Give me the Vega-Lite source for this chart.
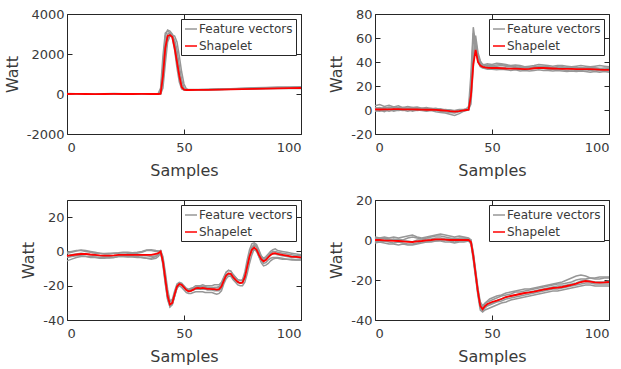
{
  "$schema": "https://vega.github.io/schema/vega-lite/v6.json",
  "padding": {"left": 3, "top": 7, "right": 5, "bottom": 5},
  "config": {
    "font": "DejaVu Sans",
    "view": {"stroke": "#262626", "strokeWidth": 1},
    "axis": {"grid": false, "domain": false, "labelFont": "DejaVu Sans", "labelFontSize": 13, "labelColor": "#3a3a3a", "titleFont": "DejaVu Sans", "titleFontSize": 16, "titleFontWeight": "normal", "titleColor": "#3a3a3a", "tickColor": "#262626", "tickSize": -5, "labelExpr": "'' + datum.value"},
    "axisX": {"labelPadding": 12, "titlePadding": 8},
    "axisY": {"labelPadding": 8, "titlePadding": 6},
    "legend": {"orient": "top-right", "offset": 5, "labelFont": "DejaVu Sans", "labelFontSize": 12, "labelColor": "#3a3a3a", "symbolType": "stroke", "symbolSize": 144, "symbolStrokeWidth": 1.5, "strokeColor": "#262626", "fillColor": "white", "padding": 3, "rowPadding": 4, "labelOffset": 1}
  },
  "datasets": {
    "p1": [
      {"x":0,"r":0,"a":15,"b":-10,"c":5,"d":20,"e":-15},
      {"x":4,"r":2,"a":10,"b":-5,"c":10,"d":15,"e":-10},
      {"x":8,"r":0,"a":12,"b":-8,"c":0,"d":18,"e":-12},
      {"x":12,"r":-2,"a":8,"b":-10,"c":5,"d":12,"e":-8},
      {"x":16,"r":0,"a":10,"b":-6,"c":8,"d":16,"e":-10},
      {"x":20,"r":2,"a":14,"b":-4,"c":4,"d":20,"e":-12},
      {"x":24,"r":0,"a":10,"b":-8,"c":6,"d":14,"e":-10},
      {"x":28,"r":0,"a":12,"b":-6,"c":2,"d":18,"e":-8},
      {"x":32,"r":2,"a":8,"b":-10,"c":6,"d":15,"e":-12},
      {"x":36,"r":0,"a":10,"b":-5,"c":4,"d":16,"e":-10},
      {"x":39,"r":0,"a":12,"b":-8,"c":2,"d":30,"e":-10},
      {"x":40,"r":20,"a":150,"b":10,"c":0,"d":300,"e":40},
      {"x":41,"r":900,"a":1400,"b":600,"c":300,"d":1900,"e":1000},
      {"x":42,"r":2300,"a":2900,"b":2000,"c":1500,"d":3050,"e":2500},
      {"x":43,"r":2900,"a":3200,"b":2800,"c":2600,"d":3150,"e":3000},
      {"x":44,"r":2950,"a":3150,"b":2950,"c":2900,"d":3050,"e":3050},
      {"x":45,"r":2850,"a":3000,"b":2900,"c":2950,"d":2800,"e":2950},
      {"x":46,"r":2300,"a":2550,"b":2700,"c":2900,"d":2200,"e":2500},
      {"x":47,"r":1600,"a":1800,"b":2200,"c":2600,"d":1300,"e":1700},
      {"x":48,"r":900,"a":900,"b":1400,"c":1900,"d":600,"e":1000},
      {"x":49,"r":350,"a":400,"b":700,"c":1100,"d":250,"e":450},
      {"x":50,"r":220,"a":220,"b":300,"c":500,"d":200,"e":250},
      {"x":51,"r":200,"a":200,"b":220,"c":260,"d":190,"e":210},
      {"x":52,"r":200,"a":205,"b":215,"c":220,"d":195,"e":205},
      {"x":56,"r":205,"a":215,"b":220,"c":215,"d":200,"e":210},
      {"x":60,"r":210,"a":225,"b":230,"c":220,"d":210,"e":215},
      {"x":65,"r":220,"a":240,"b":245,"c":225,"d":220,"e":230},
      {"x":70,"r":230,"a":260,"b":255,"c":235,"d":235,"e":245},
      {"x":75,"r":245,"a":285,"b":270,"c":245,"d":255,"e":260},
      {"x":80,"r":260,"a":310,"b":285,"c":255,"d":270,"e":280},
      {"x":85,"r":270,"a":330,"b":300,"c":265,"d":290,"e":295},
      {"x":90,"r":280,"a":345,"b":315,"c":270,"d":305,"e":305},
      {"x":95,"r":290,"a":355,"b":325,"c":275,"d":315,"e":315},
      {"x":100,"r":300,"a":365,"b":335,"c":280,"d":325,"e":320}
    ],
    "p2": [
      {"x":0,"r":0.5,"a":3.5,"b":-1,"c":1,"d":-0.5,"e":2},
      {"x":2,"r":0.4,"a":4.5,"b":0,"c":2,"d":-1,"e":1},
      {"x":4,"r":0.6,"a":3,"b":-1.5,"c":1,"d":0,"e":2},
      {"x":6,"r":0.6,"a":4,"b":0.5,"c":2.5,"d":-1,"e":1.5},
      {"x":8,"r":0.7,"a":2.5,"b":-1,"c":1.5,"d":0,"e":2.5},
      {"x":10,"r":0.8,"a":3.5,"b":0,"c":2,"d":-0.5,"e":1.5},
      {"x":12,"r":0.6,"a":2,"b":-0.5,"c":1,"d":0,"e":2},
      {"x":14,"r":0.6,"a":3,"b":0.5,"c":1.5,"d":-1,"e":1.5},
      {"x":16,"r":0.5,"a":2,"b":-1,"c":1,"d":0,"e":2},
      {"x":18,"r":0.4,"a":2.5,"b":0,"c":1.5,"d":-0.5,"e":1},
      {"x":20,"r":0.3,"a":1.5,"b":-0.5,"c":0.5,"d":0,"e":1.5},
      {"x":22,"r":0.2,"a":2,"b":-1,"c":1,"d":-0.5,"e":1},
      {"x":24,"r":0.2,"a":1,"b":-0.5,"c":0.5,"d":0,"e":1.5},
      {"x":26,"r":0.1,"a":1.5,"b":-1.5,"c":1,"d":-0.5,"e":0.5},
      {"x":28,"r":-0.2,"a":0.5,"b":-2,"c":0,"d":-1,"e":1},
      {"x":30,"r":-0.5,"a":0,"b":-2.5,"c":0.5,"d":-1.5,"e":0},
      {"x":32,"r":-1,"a":-0.5,"b":-3.5,"c":0,"d":-2,"e":0},
      {"x":34,"r":-1.3,"a":-1,"b":-4.5,"c":-0.5,"d":-2.5,"e":-1},
      {"x":36,"r":-0.9,"a":0,"b":-3,"c":0.5,"d":-1.5,"e":-0.5},
      {"x":38,"r":-0.3,"a":0.5,"b":-1,"c":0.5,"d":-0.5,"e":0},
      {"x":39,"r":0,"a":1,"b":-0.5,"c":0.5,"d":0,"e":0},
      {"x":40,"r":0.2,"a":3,"b":0,"c":1,"d":0,"e":0.5},
      {"x":41,"r":12,"a":30,"b":15,"c":20,"d":8,"e":5},
      {"x":42,"r":38,"a":69,"b":60,"c":64,"d":45,"e":35},
      {"x":43,"r":50,"a":55,"b":52,"c":55,"d":58,"e":62},
      {"x":44,"r":40,"a":43,"b":40,"c":42,"d":46,"e":48},
      {"x":45,"r":37,"a":39,"b":36,"c":38,"d":40,"e":41},
      {"x":46,"r":36,"a":38,"b":35,"c":37,"d":37,"e":38},
      {"x":47,"r":35.5,"a":38,"b":34.5,"c":37,"d":36,"e":37},
      {"x":48,"r":35.2,"a":38.5,"b":34,"c":37.5,"d":35.5,"e":36.5},
      {"x":50,"r":35,"a":38,"b":34,"c":37,"d":35,"e":36},
      {"x":52,"r":35,"a":39,"b":33.5,"c":37.5,"d":35.5,"e":36.5},
      {"x":54,"r":34.8,"a":38.5,"b":34,"c":38,"d":35,"e":37},
      {"x":56,"r":34.6,"a":38,"b":33.5,"c":37,"d":35,"e":36.5},
      {"x":58,"r":34.5,"a":37,"b":33,"c":36.5,"d":34.5,"e":36},
      {"x":60,"r":34.4,"a":37.5,"b":33.5,"c":36,"d":34,"e":35.5},
      {"x":62,"r":34.2,"a":37,"b":32.5,"c":35.5,"d":34,"e":36},
      {"x":64,"r":34,"a":36,"b":33,"c":35,"d":33.5,"e":35.5},
      {"x":66,"r":34.2,"a":36.5,"b":32.5,"c":35.5,"d":34,"e":35},
      {"x":68,"r":34.8,"a":37,"b":33,"c":36,"d":34.5,"e":35.5},
      {"x":70,"r":35,"a":38,"b":33.5,"c":36.5,"d":35,"e":36},
      {"x":72,"r":35,"a":37.5,"b":33,"c":36,"d":34.5,"e":36.5},
      {"x":74,"r":34.8,"a":37,"b":33,"c":35.5,"d":34,"e":36},
      {"x":76,"r":34.6,"a":36.5,"b":32.5,"c":35,"d":34,"e":35.5},
      {"x":78,"r":34.4,"a":37,"b":33,"c":35.5,"d":33.5,"e":36},
      {"x":80,"r":34.3,"a":37,"b":32.5,"c":36,"d":33.5,"e":35.5},
      {"x":82,"r":34.2,"a":36.5,"b":32,"c":35.5,"d":33,"e":35},
      {"x":84,"r":34.2,"a":36,"b":32.5,"c":35,"d":33.5,"e":35.5},
      {"x":86,"r":34,"a":36.5,"b":32,"c":35.5,"d":33,"e":35},
      {"x":88,"r":34,"a":37,"b":32.5,"c":35,"d":33,"e":35.5},
      {"x":90,"r":34,"a":36.5,"b":32,"c":35,"d":33.5,"e":35},
      {"x":92,"r":34,"a":36,"b":31.5,"c":35.5,"d":33,"e":34.5},
      {"x":94,"r":33.8,"a":36.5,"b":32,"c":35,"d":32.5,"e":35},
      {"x":96,"r":33.6,"a":37,"b":31.5,"c":34.5,"d":33,"e":34.5},
      {"x":98,"r":33.5,"a":36.5,"b":32,"c":35,"d":32.5,"e":34},
      {"x":100,"r":33.5,"a":36,"b":31.5,"c":35,"d":32.5,"e":34.5}
    ],
    "p3": [
      {"x":0,"r":-2.6,"a":-1,"b":-3.5,"c":-5.5,"d":-0.5,"e":-2.5},
      {"x":2,"r":-2.2,"a":-0.5,"b":-3,"c":-4.5,"d":0,"e":-2},
      {"x":4,"r":-1.8,"a":0.3,"b":-2.5,"c":-3.5,"d":0.5,"e":-1.5},
      {"x":6,"r":-1.5,"a":0.8,"b":-2.5,"c":-3,"d":0.5,"e":-1},
      {"x":8,"r":-1.5,"a":0.5,"b":-2.8,"c":-3,"d":0,"e":-1.5},
      {"x":10,"r":-1.8,"a":0,"b":-3,"c":-3.5,"d":-0.5,"e":-2},
      {"x":12,"r":-2,"a":-0.5,"b":-3.2,"c":-3.5,"d":-1,"e":-2.5},
      {"x":14,"r":-2.3,"a":-1,"b":-3.5,"c":-4,"d":-1,"e":-2.5},
      {"x":16,"r":-2.5,"a":-1.2,"b":-3.5,"c":-4,"d":-1.5,"e":-3},
      {"x":18,"r":-2.5,"a":-1,"b":-3.8,"c":-3.5,"d":-1.5,"e":-3},
      {"x":20,"r":-2.3,"a":-1,"b":-3.5,"c":-3.5,"d":-1,"e":-2.5},
      {"x":22,"r":-2,"a":-0.8,"b":-3,"c":-3,"d":-1,"e":-2.5},
      {"x":24,"r":-2,"a":-0.5,"b":-3,"c":-3,"d":-0.8,"e":-2.5},
      {"x":26,"r":-2,"a":-0.5,"b":-3.2,"c":-3,"d":-1,"e":-2.5},
      {"x":28,"r":-2,"a":-0.8,"b":-3,"c":-3.2,"d":-1,"e":-2.2},
      {"x":30,"r":-2,"a":-0.5,"b":-3,"c":-3.5,"d":-1,"e":-2},
      {"x":32,"r":-2,"a":0,"b":-3.5,"c":-3.5,"d":-0.5,"e":-2.5},
      {"x":34,"r":-2,"a":0.8,"b":-4,"c":-4,"d":0.5,"e":-2.5},
      {"x":36,"r":-2,"a":1,"b":-4.5,"c":-4,"d":0.5,"e":-3},
      {"x":38,"r":-1.5,"a":0.5,"b":-4,"c":-3,"d":0,"e":-2.5},
      {"x":39,"r":-1,"a":0.3,"b":-3,"c":-2,"d":0,"e":-1.5},
      {"x":40,"r":0,"a":0.5,"b":-1,"c":-0.5,"d":0.5,"e":0},
      {"x":41,"r":-6,"a":-4,"b":-5,"c":-8,"d":-3,"e":-7},
      {"x":42,"r":-16,"a":-14,"b":-15,"c":-19,"d":-12,"e":-18},
      {"x":43,"r":-26,"a":-25,"b":-24,"c":-28,"d":-22,"e":-28},
      {"x":44,"r":-31,"a":-31,"b":-29,"c":-32.5,"d":-29,"e":-32},
      {"x":45,"r":-30,"a":-31,"b":-28,"c":-31,"d":-30,"e":-30},
      {"x":46,"r":-25,"a":-26,"b":-23,"c":-26,"d":-26,"e":-24},
      {"x":47,"r":-20.5,"a":-21,"b":-19,"c":-21.5,"d":-21,"e":-20},
      {"x":48,"r":-19,"a":-19,"b":-18,"c":-20,"d":-19,"e":-18.5},
      {"x":49,"r":-19.5,"a":-19.5,"b":-18.5,"c":-21,"d":-19,"e":-19.5},
      {"x":50,"r":-21,"a":-21,"b":-20,"c":-22.5,"d":-20.5,"e":-21},
      {"x":51,"r":-22.5,"a":-22,"b":-21.5,"c":-24,"d":-22,"e":-22.5},
      {"x":52,"r":-23.3,"a":-23,"b":-22,"c":-24.5,"d":-22.5,"e":-23.5},
      {"x":53,"r":-23,"a":-22.5,"b":-21.5,"c":-24.5,"d":-22,"e":-23},
      {"x":54,"r":-22.3,"a":-22,"b":-21,"c":-24,"d":-21.5,"e":-22.5},
      {"x":55,"r":-21.5,"a":-21,"b":-20,"c":-23.5,"d":-21,"e":-22},
      {"x":56,"r":-21.3,"a":-20.5,"b":-20,"c":-23.5,"d":-20.5,"e":-22},
      {"x":57,"r":-21.5,"a":-21,"b":-20,"c":-23.5,"d":-20.5,"e":-22},
      {"x":58,"r":-21.3,"a":-20.5,"b":-19.5,"c":-23.5,"d":-20.5,"e":-22},
      {"x":59,"r":-21.5,"a":-21,"b":-20,"c":-24,"d":-20.5,"e":-22},
      {"x":60,"r":-21.8,"a":-21,"b":-20,"c":-24,"d":-21,"e":-22.5},
      {"x":61,"r":-21.8,"a":-21,"b":-20,"c":-24,"d":-21,"e":-22.5},
      {"x":62,"r":-22,"a":-21,"b":-20,"c":-24,"d":-21.5,"e":-22.5},
      {"x":63,"r":-22,"a":-21,"b":-19.5,"c":-24.5,"d":-21,"e":-23},
      {"x":64,"r":-22.3,"a":-21,"b":-19.5,"c":-25,"d":-21,"e":-23},
      {"x":65,"r":-22,"a":-20.5,"b":-19.5,"c":-24.5,"d":-21,"e":-23},
      {"x":66,"r":-20.5,"a":-19,"b":-18,"c":-23,"d":-20,"e":-21.5},
      {"x":67,"r":-17,"a":-15.5,"b":-15,"c":-19,"d":-17,"e":-17.5},
      {"x":68,"r":-14,"a":-12.5,"b":-12,"c":-16,"d":-14,"e":-14.5},
      {"x":69,"r":-12.8,"a":-11,"b":-11,"c":-14.5,"d":-13,"e":-13.5},
      {"x":70,"r":-13,"a":-11.5,"b":-11.5,"c":-14.5,"d":-13.5,"e":-13.5},
      {"x":71,"r":-15,"a":-13.5,"b":-13.5,"c":-16.5,"d":-15.5,"e":-15.5},
      {"x":72,"r":-16.5,"a":-15,"b":-15,"c":-18,"d":-17,"e":-17},
      {"x":73,"r":-17.8,"a":-16.5,"b":-16.5,"c":-19.5,"d":-18,"e":-18},
      {"x":74,"r":-18.4,"a":-17,"b":-17,"c":-20,"d":-18.5,"e":-18.5},
      {"x":75,"r":-18.2,"a":-16.5,"b":-17,"c":-20,"d":-18,"e":-18},
      {"x":76,"r":-15,"a":-12,"b":-14,"c":-18,"d":-14.5,"e":-15},
      {"x":77,"r":-9,"a":-5,"b":-8,"c":-13,"d":-8,"e":-9},
      {"x":78,"r":-3,"a":1,"b":-2,"c":-7,"d":-2,"e":-3},
      {"x":79,"r":1,"a":4.5,"b":2,"c":-2,"d":2.5,"e":0.5},
      {"x":80,"r":2.3,"a":5,"b":3.5,"c":1.5,"d":4,"e":1},
      {"x":81,"r":1,"a":4,"b":2.5,"c":1,"d":3,"e":0},
      {"x":82,"r":-2,"a":1,"b":-0.5,"c":-3,"d":0,"e":-3},
      {"x":83,"r":-4.5,"a":-2.5,"b":-3.5,"c":-6.5,"d":-3,"e":-5.5},
      {"x":84,"r":-5.8,"a":-4,"b":-5,"c":-8.4,"d":-4.5,"e":-7},
      {"x":85,"r":-5,"a":-3,"b":-4.5,"c":-8,"d":-4,"e":-6.5},
      {"x":86,"r":-3.5,"a":-1.5,"b":-3,"c":-7,"d":-2.5,"e":-5},
      {"x":87,"r":-2,"a":0,"b":-2,"c":-5.5,"d":-1,"e":-4},
      {"x":88,"r":-1.2,"a":1,"b":-1.5,"c":-4.5,"d":0,"e":-3.5},
      {"x":89,"r":-1,"a":1.5,"b":-1.5,"c":-4,"d":0,"e":-3.5},
      {"x":90,"r":-1.5,"a":0.5,"b":-2,"c":-4,"d":-0.5,"e":-3.5},
      {"x":92,"r":-2,"a":0,"b":-2.5,"c":-4.5,"d":-1,"e":-4},
      {"x":94,"r":-2.5,"a":-0.5,"b":-3,"c":-4.5,"d":-1.5,"e":-4.5},
      {"x":96,"r":-3,"a":-1,"b":-3.5,"c":-5,"d":-2,"e":-4.5},
      {"x":98,"r":-3.2,"a":-1.5,"b":-3.5,"c":-5,"d":-2.5,"e":-5},
      {"x":100,"r":-3.5,"a":-2,"b":-4,"c":-5,"d":-2.5,"e":-5}
    ],
    "p4": [
      {"x":0,"r":0,"a":1.5,"b":-1.5,"c":0.5,"d":-0.5,"e":1},
      {"x":2,"r":0,"a":1,"b":-1,"c":1,"d":-1,"e":0.5},
      {"x":4,"r":-0.2,"a":1.5,"b":-1.5,"c":0.5,"d":-0.5,"e":1},
      {"x":6,"r":-0.3,"a":1,"b":-2,"c":0,"d":-1,"e":0.5},
      {"x":8,"r":-0.4,"a":1.5,"b":-2,"c":0.5,"d":-1.5,"e":0},
      {"x":10,"r":-0.5,"a":1,"b":-2.5,"c":0,"d":-1,"e":0.5},
      {"x":12,"r":-0.7,"a":1.5,"b":-2,"c":-0.5,"d":-1.5,"e":0},
      {"x":14,"r":-0.9,"a":2,"b":-2.5,"c":-0.5,"d":-2,"e":1},
      {"x":16,"r":-1,"a":2.5,"b":-2.5,"c":-1,"d":-2,"e":1.5},
      {"x":18,"r":-0.7,"a":1.5,"b":-2,"c":0,"d":-1.5,"e":1},
      {"x":20,"r":-0.5,"a":1,"b":-1.5,"c":0,"d":-1,"e":0.5},
      {"x":22,"r":-0.2,"a":1.5,"b":-1,"c":0.5,"d":-1,"e":1},
      {"x":24,"r":0,"a":2,"b":-1,"c":0.5,"d":-0.5,"e":1.5},
      {"x":26,"r":0.3,"a":2.5,"b":-0.5,"c":1,"d":-0.5,"e":2},
      {"x":28,"r":0.3,"a":3,"b":-0.5,"c":1,"d":0,"e":2},
      {"x":30,"r":0.2,"a":2.5,"b":-1,"c":0.5,"d":0,"e":1.5},
      {"x":32,"r":0,"a":2,"b":-1,"c":0.5,"d":-0.5,"e":1},
      {"x":34,"r":0,"a":1.5,"b":-1.5,"c":1,"d":-1,"e":0.5},
      {"x":36,"r":0,"a":2,"b":-1,"c":0.5,"d":-0.5,"e":1},
      {"x":38,"r":0,"a":1.5,"b":-1,"c":0.5,"d":-0.5,"e":1},
      {"x":40,"r":0,"a":1,"b":-0.5,"c":0.5,"d":0,"e":0.5},
      {"x":41,"r":-1,"a":0,"b":-2,"c":-0.5,"d":0,"e":-1.5},
      {"x":42,"r":-8,"a":-6,"b":-10,"c":-9,"d":-7,"e":-8},
      {"x":43,"r":-17,"a":-15,"b":-19,"c":-18,"d":-16,"e":-17},
      {"x":44,"r":-26,"a":-24,"b":-28,"c":-27,"d":-25,"e":-26},
      {"x":45,"r":-33,"a":-31,"b":-35,"c":-34,"d":-32,"e":-33},
      {"x":46,"r":-34.6,"a":-33,"b":-36,"c":-35.5,"d":-34,"e":-35},
      {"x":47,"r":-33,"a":-31.5,"b":-35,"c":-33.5,"d":-32,"e":-34},
      {"x":48,"r":-32,"a":-30.5,"b":-34.5,"c":-32.5,"d":-31,"e":-33},
      {"x":49,"r":-31.5,"a":-29.5,"b":-34,"c":-32,"d":-30.5,"e":-32.5},
      {"x":50,"r":-31,"a":-29,"b":-33.5,"c":-31.5,"d":-30,"e":-32},
      {"x":52,"r":-30.3,"a":-28,"b":-32.5,"c":-30.5,"d":-29,"e":-31},
      {"x":54,"r":-29.5,"a":-27.5,"b":-31.5,"c":-29.5,"d":-28,"e":-30.5},
      {"x":56,"r":-28.5,"a":-26.5,"b":-31,"c":-28.5,"d":-27.5,"e":-29.5},
      {"x":58,"r":-28,"a":-26,"b":-30,"c":-28,"d":-27,"e":-29},
      {"x":60,"r":-27.5,"a":-25.5,"b":-29.5,"c":-27.5,"d":-26,"e":-28.5},
      {"x":62,"r":-27,"a":-25,"b":-29,"c":-27,"d":-26,"e":-28},
      {"x":64,"r":-26.5,"a":-24.5,"b":-28.5,"c":-26.5,"d":-25.5,"e":-27.5},
      {"x":66,"r":-26.2,"a":-24.5,"b":-28,"c":-26,"d":-25,"e":-27},
      {"x":68,"r":-25.8,"a":-24,"b":-27.5,"c":-25.5,"d":-24.5,"e":-26.5},
      {"x":70,"r":-25.3,"a":-23.5,"b":-27,"c":-25,"d":-24,"e":-26},
      {"x":72,"r":-24.8,"a":-23,"b":-26.5,"c":-24.5,"d":-23.5,"e":-25.5},
      {"x":74,"r":-24.4,"a":-22.5,"b":-26,"c":-24,"d":-23,"e":-25},
      {"x":76,"r":-24,"a":-22,"b":-25.5,"c":-23.5,"d":-22.5,"e":-24.5},
      {"x":78,"r":-23.8,"a":-21.5,"b":-25.5,"c":-23,"d":-22,"e":-24.5},
      {"x":80,"r":-23.5,"a":-21,"b":-25,"c":-23,"d":-22,"e":-24},
      {"x":82,"r":-23,"a":-20,"b":-24.5,"c":-22.5,"d":-21.5,"e":-23.5},
      {"x":84,"r":-22.5,"a":-19,"b":-24,"c":-22,"d":-21,"e":-23},
      {"x":86,"r":-21.8,"a":-18,"b":-23.5,"c":-21.5,"d":-20,"e":-22.5},
      {"x":88,"r":-21,"a":-17.5,"b":-23,"c":-20.5,"d":-19.5,"e":-22},
      {"x":90,"r":-20.5,"a":-18,"b":-22.5,"c":-20,"d":-19.5,"e":-21.5},
      {"x":92,"r":-20.8,"a":-19,"b":-22.5,"c":-20.5,"d":-19,"e":-21.5},
      {"x":94,"r":-21.2,"a":-19.5,"b":-23,"c":-21,"d":-19,"e":-22},
      {"x":96,"r":-21.3,"a":-19.5,"b":-23,"c":-21,"d":-18.5,"e":-22},
      {"x":98,"r":-21.2,"a":-19,"b":-23,"c":-21,"d":-18.5,"e":-22},
      {"x":100,"r":-21,"a":-19,"b":-23,"c":-20.5,"d":-18.5,"e":-22}
    ]
  },
  "columns": 2,
  "bounds": "flush",
  "spacing": {"row": 66, "column": 74},
  "resolve": {"scale": {"color": "independent"}},
  "concat": [
    {
      "width": 234, "height": 120,
      "data": {"name": "p1"},
      "layer": [
        {"transform": [{"fold": ["a","b","c","d","e"], "as": ["k","v"]}],
         "mark": {"type": "line", "strokeWidth": 1.5},
         "encoding": {
           "x": {"field": "x", "type": "quantitative", "scale": {"domain": [0,100]}, "axis": {"values": [0,50,100], "title": "Samples"}},
           "y": {"field": "v", "type": "quantitative", "scale": {"domain": [-2000,4000]}, "axis": {"values": [-2000,0,2000,4000], "title": "Watt"}},
           "detail": {"field": "k"},
           "color": {"datum": "Feature vectors", "scale": {"domain": ["Feature vectors","Shapelet"], "range": ["#979797","#ff0000"]}, "legend": {"title": null}}
         }},
        {"mark": {"type": "line", "strokeWidth": 1.8},
         "encoding": {
           "x": {"field": "x", "type": "quantitative", "axis": {"orient": "top", "values": [0,50,100], "labels": false, "title": null}},
           "y": {"field": "r", "type": "quantitative", "axis": {"orient": "right", "values": [-2000,0,2000,4000], "labels": false, "title": null}},
           "color": {"datum": "Shapelet", "legend": {"title": null}}
         }}
      ],
      "resolve": {"axis": {"x": "independent", "y": "independent"}}
    },
    {
      "width": 234, "height": 120,
      "data": {"name": "p2"},
      "layer": [
        {"transform": [{"fold": ["a","b","c","d","e"], "as": ["k","v"]}],
         "mark": {"type": "line", "strokeWidth": 1.5},
         "encoding": {
           "x": {"field": "x", "type": "quantitative", "scale": {"domain": [0,100]}, "axis": {"values": [0,50,100], "title": "Samples"}},
           "y": {"field": "v", "type": "quantitative", "scale": {"domain": [-20,80]}, "axis": {"values": [-20,0,20,40,60,80], "title": "Watt"}},
           "detail": {"field": "k"},
           "color": {"datum": "Feature vectors", "scale": {"domain": ["Feature vectors","Shapelet"], "range": ["#979797","#ff0000"]}, "legend": {"title": null}}
         }},
        {"mark": {"type": "line", "strokeWidth": 1.8},
         "encoding": {
           "x": {"field": "x", "type": "quantitative", "axis": {"orient": "top", "values": [0,50,100], "labels": false, "title": null}},
           "y": {"field": "r", "type": "quantitative", "axis": {"orient": "right", "values": [-20,0,20,40,60,80], "labels": false, "title": null}},
           "color": {"datum": "Shapelet", "legend": {"title": null}}
         }}
      ],
      "resolve": {"axis": {"x": "independent", "y": "independent"}}
    },
    {
      "width": 234, "height": 120,
      "data": {"name": "p3"},
      "layer": [
        {"transform": [{"fold": ["a","b","c","d","e"], "as": ["k","v"]}],
         "mark": {"type": "line", "strokeWidth": 1.5},
         "encoding": {
           "x": {"field": "x", "type": "quantitative", "scale": {"domain": [0,100]}, "axis": {"values": [0,50,100], "title": "Samples"}},
           "y": {"field": "v", "type": "quantitative", "scale": {"domain": [-40,30]}, "axis": {"values": [-40,-20,0,20], "title": "Watt"}},
           "detail": {"field": "k"},
           "color": {"datum": "Feature vectors", "scale": {"domain": ["Feature vectors","Shapelet"], "range": ["#979797","#ff0000"]}, "legend": {"title": null}}
         }},
        {"mark": {"type": "line", "strokeWidth": 1.8},
         "encoding": {
           "x": {"field": "x", "type": "quantitative", "axis": {"orient": "top", "values": [0,50,100], "labels": false, "title": null}},
           "y": {"field": "r", "type": "quantitative", "axis": {"orient": "right", "values": [-40,-20,0,20], "labels": false, "title": null}},
           "color": {"datum": "Shapelet", "legend": {"title": null}}
         }}
      ],
      "resolve": {"axis": {"x": "independent", "y": "independent"}}
    },
    {
      "width": 234, "height": 120,
      "data": {"name": "p4"},
      "layer": [
        {"transform": [{"fold": ["a","b","c","d","e"], "as": ["k","v"]}],
         "mark": {"type": "line", "strokeWidth": 1.5},
         "encoding": {
           "x": {"field": "x", "type": "quantitative", "scale": {"domain": [0,100]}, "axis": {"values": [0,50,100], "title": "Samples"}},
           "y": {"field": "v", "type": "quantitative", "scale": {"domain": [-40,20]}, "axis": {"values": [-40,-20,0,20], "title": "Watt"}},
           "detail": {"field": "k"},
           "color": {"datum": "Feature vectors", "scale": {"domain": ["Feature vectors","Shapelet"], "range": ["#979797","#ff0000"]}, "legend": {"title": null}}
         }},
        {"mark": {"type": "line", "strokeWidth": 1.8},
         "encoding": {
           "x": {"field": "x", "type": "quantitative", "axis": {"orient": "top", "values": [0,50,100], "labels": false, "title": null}},
           "y": {"field": "r", "type": "quantitative", "axis": {"orient": "right", "values": [-40,-20,0,20], "labels": false, "title": null}},
           "color": {"datum": "Shapelet", "legend": {"title": null}}
         }}
      ],
      "resolve": {"axis": {"x": "independent", "y": "independent"}}
    }
  ]
}
